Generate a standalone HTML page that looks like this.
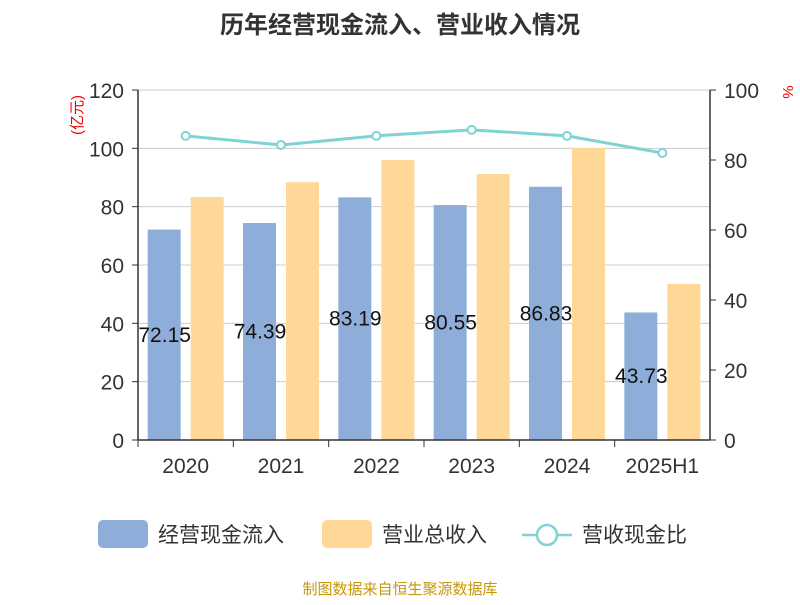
<!DOCTYPE html>
<html><head><meta charset="utf-8"><style>
body{margin:0;background:#fff;font-family:"Liberation Sans","Noto Sans CJK SC",sans-serif}
</style></head><body>
<svg width="800" height="600" xmlns="http://www.w3.org/2000/svg" style="font-family:'Liberation Sans','Noto Sans CJK SC',sans-serif">
<text x="400" y="33" text-anchor="middle" font-size="24" font-weight="bold" fill="#333">历年经营现金流入、营业收入情况</text>
<text transform="translate(82,115) rotate(-90)" text-anchor="middle" font-size="15" fill="#e00">(亿元)</text>
<text x="787" y="96" text-anchor="middle" font-size="15" fill="#e00" transform="rotate(90,787,92)">%</text>
<g id="grid"></g><g id="bars"></g><g id="labels"></g><g id="bars2"></g><g id="axes"></g><g id="line"></g>
<g>
<rect x="98" y="520" width="50" height="28" rx="5" fill="#8eaed9"/>
<text x="158" y="542" font-size="21" fill="#333">经营现金流入</text>
<rect x="322" y="520" width="50" height="28" rx="5" fill="#ffd898"/>
<text x="382" y="542" font-size="21" fill="#333">营业总收入</text>
<line x1="522" y1="535" x2="572" y2="535" stroke="#7fd3d5" stroke-width="2.5"/>
<circle cx="547" cy="535" r="10" fill="#fff" stroke="#7fd3d5" stroke-width="2.5"/>
<text x="582" y="542" font-size="21" fill="#333">营收现金比</text>
</g>
<text x="400" y="594" text-anchor="middle" font-size="15" fill="#c8960a">制图数据来自恒生聚源数据库</text>
</svg>
<script>
const categories=["2020","2021","2022","2023","2024","2025H1"];
const cashIn=[72.15,74.39,83.19,80.55,86.83,43.73];
const revenue=[83.3,88.4,96.0,91.2,100.1,53.5];
const ratio=[86.9,84.3,86.9,88.6,86.9,82.0];
const leftTicks=[0,20,40,60,80,100,120];
const rightTicks=[0,20,40,60,80,100];
const NS="http://www.w3.org/2000/svg";
const X0=138,X1=710,Y0=440,Y1=90;
const bw=(X1-X0)/categories.length;
const yL=v=>Y0-(v/120)*(Y0-Y1);
const yR=v=>Y0-(v/100)*(Y0-Y1);
const cx=i=>X0+bw*(i+0.5);
function mk(t,a,p,txt){const e=document.createElementNS(NS,t);for(const k in a)e.setAttribute(k,a[k]);if(txt!==undefined)e.textContent=txt;document.getElementById(p).appendChild(e);return e;}
leftTicks.forEach(v=>{
 const g=mk("line",{x1:X0,x2:X1,y1:yL(v),y2:yL(v),stroke:"#ccc","stroke-width":1},"grid");
 
 
 const t=mk("text",{x:X0-14,y:yL(v)+8,"text-anchor":"end","font-size":21,fill:"#333"},"axes",String(v));
 
 
 const tk=mk("line",{x1:X0-6,x2:X0,y1:yL(v),y2:yL(v),stroke:"#333"},"axes");
 
 
});
rightTicks.forEach(v=>{
 const t=mk("text",{x:X1+14,y:yR(v)+8,"font-size":21,fill:"#333"},"axes",String(v));
 
 
 const tk=mk("line",{x1:X1,x2:X1+6,y1:yR(v),y2:yR(v),stroke:"#333"},"axes");
 
 
});
[[X0,Y1,X0,Y0],[X1,Y1,X1,Y0],[X0,Y0,X1,Y0]].forEach(l=>{
 const a=mk("line",{x1:l[0],y1:l[1],x2:l[2],y2:l[3],stroke:"#333","stroke-width":1.5},"axes");
 
 
});
categories.forEach((c,i)=>{
 const tk=mk("line",{x1:X0+bw*i,x2:X0+bw*i,y1:Y0,y2:Y0+7,stroke:"#333"},"axes");
 
 
 const t=mk("text",{x:cx(i),y:Y0+33,"text-anchor":"middle","font-size":21,fill:"#333"},"axes",c);
 
 
 const b=mk("rect",{x:cx(i)-38,y:yL(cashIn[i]),width:33,height:Y0-yL(cashIn[i]),fill:"#8eaed9"},"bars");
 
 
 const lb=mk("text",{x:cx(i)-21,y:(yL(cashIn[i])+Y0)/2+7,"text-anchor":"middle","font-size":21,fill:"#111"},"labels",cashIn[i].toFixed(2));
 
 
 const r=mk("rect",{x:cx(i)+5,y:yL(revenue[i]),width:33,height:Y0-yL(revenue[i]),fill:"#ffd898"},"bars2");
 
 
});
const pl=mk("polyline",{points:ratio.map((v,i)=>cx(i)+","+yR(v)).join(" "),fill:"none",stroke:"#7fd3d5","stroke-width":3},"line");


ratio.forEach((v,i)=>{
 const p=mk("circle",{cx:cx(i),cy:yR(v),r:4,fill:"#fff",stroke:"#7fd3d5","stroke-width":2},"line");
 
 
});
</script>
</body></html>
